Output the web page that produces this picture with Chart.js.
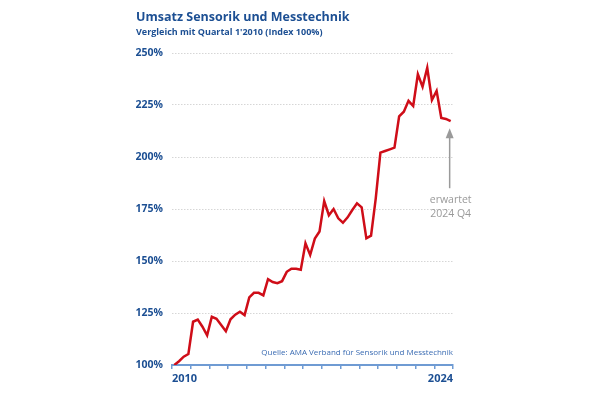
<!DOCTYPE html>
<html>
<head>
<meta charset="utf-8">
<script src="https://cdn.jsdelivr.net/npm/chart.js@4/dist/chart.umd.min.js"></script>
<style>
  html, body { margin: 0; padding: 0; background: #fff; }
  #wrap { width: 600px; height: 395px; position: relative; }
</style>
</head>
<body>
<div id="wrap"><canvas id="umsatzChart"></canvas></div>
<script>
// Umsatz Sensorik und Messtechnik, Index Q1 2010 = 100%
const years = ['2010', '2011', '2012', '2013', '2014', '2015', '2016', '2017',
               '2018', '2019', '2020', '2021', '2022', '2023', '2024'];
const quartersPerYear = ['Q1', 'Q2', 'Q3', 'Q4'];

const indexWerte = [
    100.0, 101.8, 104.0, 105.3,
    120.8, 121.8, 118.4, 114.3,
    123.2, 122.2, 119.2, 116.2,
    122.0, 124.2, 125.6, 124.0,
    132.5, 134.7, 134.7, 133.5,
    141.3, 139.9, 139.3, 140.3,
    144.8, 146.3, 146.3, 145.8,
    158.5, 152.9, 160.8, 164.2,
    178.8, 172.0, 175.0, 170.5,
    168.4, 171.0, 174.5, 177.7,
    175.8, 160.9, 162.2, 180.0,
    202.1, 202.9, 203.7, 204.5,
    219.6, 221.8, 227.0, 224.5,
    239.8, 233.8, 242.9, 227.4,
    231.8, 218.8, 218.3, 217.2
];

const yTicks = [100, 125, 150, 175, 200, 225, 250];
const xTickLabels = ['2010', '2024'];

const titel = 'Umsatz Sensorik und Messtechnik';
const untertitel = "Vergleich mit Quartal 1'2010 (Index 100%)";
const quelle = 'Quelle: AMA Verband für Sensorik und Messtechnik';
const hinweis = ['erwartet', '2024 Q4'];

const BLAU = '#1c4f93';
const ACHSE = '#6f9bd3';
const ROT = '#cf0d18';
const GRAU = '#9a9a9a';
const FONT = '"Open Sans", "Noto Sans", sans-serif';

const quartale = [];
years.forEach(j => quartersPerYear.forEach(q => quartale.push(q + ' ' + j)));
const punkte = indexWerte.map((v, i) => ({ x: i, y: v }));

// Titel, Quelle und Pfeil mit Hinweis
const textPlugin = {
    id: 'texte',
    afterDraw(chart) {
        const ctx = chart.ctx;
        const area = chart.chartArea;
        const xs = chart.scales.x;
        const ys = chart.scales.y;
        ctx.save();
        ctx.textBaseline = 'alphabetic';
        ctx.textAlign = 'left';
        ctx.fillStyle = BLAU;
        ctx.font = 'bold 12.5px ' + FONT;
        ctx.fillText(titel, 136, 21);
        ctx.font = 'bold 9px ' + FONT;
        ctx.fillText(untertitel, 136, 34.5);

        ctx.textAlign = 'right';
        ctx.fillStyle = '#3b6cb3';
        ctx.font = '8px ' + FONT;
        ctx.fillText(quelle, area.right, area.bottom - 10);

        const last = indexWerte.length - 1;
        const px = xs.getPixelForValue(last) - 1;
        const top = ys.getPixelForValue(indexWerte[last]) + 7;
        ctx.strokeStyle = GRAU;
        ctx.fillStyle = GRAU;
        ctx.lineWidth = 1.5;
        ctx.beginPath();
        ctx.moveTo(px, top + 8);
        ctx.lineTo(px, top + 60);
        ctx.stroke();
        ctx.beginPath();
        ctx.moveTo(px, top);
        ctx.lineTo(px - 4, top + 10);
        ctx.lineTo(px + 4, top + 10);
        ctx.closePath();
        ctx.fill();

        ctx.textAlign = 'center';
        ctx.font = '10.5px ' + FONT;
        ctx.fillText(hinweis[0], px + 1, top + 75);
        ctx.fillText(hinweis[1], px + 1, top + 89);
        ctx.restore();
    }
};

const ctx = document.getElementById('umsatzChart').getContext('2d');
new Chart(ctx, {
    type: 'line',
    data: {
        labels: quartale,
        datasets: [{
            label: 'Umsatz',
            data: punkte,
            borderColor: ROT,
            borderWidth: 2.5,
            pointRadius: 0,
            tension: 0,
            fill: false
        }]
    },
    options: {
        responsive: true,
        maintainAspectRatio: false,
        animation: false,
        layout: { padding: { left: 136, right: 147, top: 53, bottom: 0 } },
        plugins: {
            legend: { display: false },
            tooltip: { enabled: false }
        },
        scales: {
            x: {
                type: 'linear',
                min: -0.5,
                max: indexWerte.length - 0.5,
                afterBuildTicks: scale => {
                    scale.ticks = years.concat(['']).map((j, k) => ({ value: k * 4 - 0.5 }));
                },
                afterFit: scale => { scale.height = 30; },
                grid: {
                    drawOnChartArea: false,
                    drawTicks: true,
                    tickLength: 4,
                    color: ACHSE,
                    lineWidth: 1.5
                },
                border: { color: ACHSE, width: 2 },
                ticks: {
                    autoSkip: false,
                    maxRotation: 0,
                    align: 'inner',
                    padding: 3,
                    color: BLAU,
                    font: { family: FONT, size: 11, weight: 'bold' },
                    callback: (v, i, ticks) => {
                        if (i === 0) return xTickLabels[0];
                        if (i === ticks.length - 1) return xTickLabels[1];
                        return '';
                    }
                }
            },
            y: {
                min: yTicks[0],
                max: yTicks[yTicks.length - 1],
                afterBuildTicks: scale => {
                    scale.ticks = yTicks.map(v => ({ value: v }));
                },
                afterFit: scale => { scale.width = 36; },
                grid: {
                    drawTicks: false,
                    color: '#d6d6d6',
                    lineWidth: 1
                },
                border: { display: false, dash: [1.5, 1.5] },
                ticks: {
                    padding: 9,
                    color: BLAU,
                    font: { family: FONT, size: 10.5, weight: 'bold' },
                    callback: v => v + '%'
                }
            }
        }
    },
    plugins: [textPlugin]
});
</script>
</body>
</html>
